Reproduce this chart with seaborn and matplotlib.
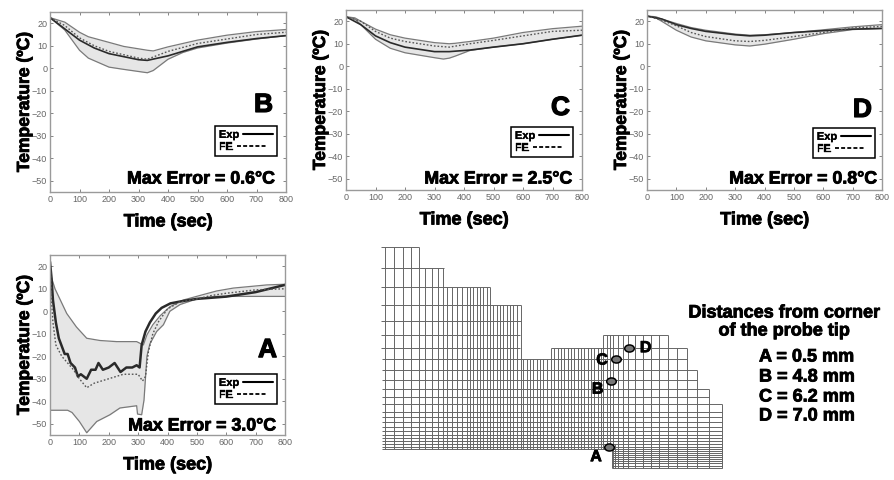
import numpy as np
import pandas as pd
import seaborn as sns
import matplotlib.pyplot as plt
import matplotlib.patheffects as pe
from matplotlib.lines import Line2D
from matplotlib.markers import MarkerStyle
from matplotlib.transforms import Affine2D

W, H = 894, 480

# panel B
b_t_band = [0, 50, 100, 130, 200, 250, 330, 350, 400, 450, 500, 600, 700, 800]
b_upper = [22.5, 20.5, 16, 14, 11.5, 9.7, 8, 7.7, 9.5, 11, 12.5, 14.7, 16.3, 17.2]
b_lower = [22.5, 17, 8, 4.5, 0.5, -0.5, -2, -1, 4, 7, 9, 11.2, 13, 14.5]
b_t = [0, 50, 100, 150, 200, 300, 330, 400, 500, 600, 700, 800]
b_exp = [22.5, 17.5, 12.5, 9, 6.5, 3.8, 3.5, 5.5, 9.5, 11.5, 13.2, 14.5]
b_fe = [22.5, 19, 13.5, 10, 7.5, 4.5, 4, 7.5, 11, 13, 15, 16]

# panel C
c_t_band = [0, 30, 50, 100, 150, 200, 300, 330, 350, 370, 400, 420, 500, 600, 700, 800]
c_upper = [22, 21.5, 20, 16.5, 14, 12.5, 10.5, 10.2, 10, 10.2, 10.7, 11, 12.5, 15, 16.7, 17.8]
c_lower = [22, 21, 18.5, 12, 8, 6, 3.8, 3.2, 3.6, 4.5, 6, 7, 8.5, 10, 12, 13.8]
c_t = [0, 50, 100, 150, 200, 300, 350, 420, 500, 600, 700, 800]
c_exp = [22, 18.5, 13.5, 10.5, 8.5, 6.5, 6.5, 7.2, 8.5, 10, 12, 13.8]
c_fe = [22, 20, 15.5, 12.5, 11, 9, 8.5, 10, 11.5, 13.5, 15.5, 16]

# panel D
d_t_band = [0, 30, 50, 100, 150, 200, 300, 350, 400, 500, 600, 700, 800]
d_upper = [22.3, 22, 21, 19, 17.2, 16, 14.3, 13.8, 14, 15, 16.2, 17.5, 18.5]
d_lower = [22.2, 21.5, 20, 16, 13, 11.3, 9.5, 9, 9.8, 12, 14.5, 16.3, 16.8]
d_t = [0, 50, 100, 150, 200, 300, 350, 400, 500, 600, 700, 800]
d_exp = [22.3, 21, 18.5, 16.8, 15.5, 14, 13.5, 13.8, 15, 15.8, 16.5, 16.8]
d_fe = [22.3, 20.5, 18, 15, 13.2, 11.3, 11, 11.5, 13.2, 15, 17, 17.7]

# panel A
a_t_upper = [0, 5, 17, 57, 90, 125, 170, 227, 295, 318, 330, 350, 375, 408, 454, 510, 567, 624, 738, 800]
a_upper = [22, 15, 10, -1, -7, -12, -13, -13.5, -13.5, -15, -10.5, -6, -2, 2, 5, 7, 9, 10.3, 11.7, 12]
a_t_lower = [0, 1, 60, 75, 100, 125, 159, 204, 238, 295, 298, 312, 320, 330, 340, 363, 386, 408, 443, 500, 567, 800]
a_lower = [22, -44, -44, -45, -49, -54, -49, -46, -43, -42, -45.7, -46, -39.5, -20, -14.5, -9, -6, 0, 3, 5.5, 6.6, 6.6]
a_t_exp = [0, 5, 10, 20, 30, 50, 60, 70, 85, 95, 105, 125, 140, 155, 165, 180, 200, 220, 240, 260, 280, 295, 305,
           312, 325, 340, 360, 380, 410, 450, 500, 600, 700, 800]
a_exp = [22, 15, 5, -5, -12, -19, -19, -23, -25, -29, -28, -30, -26, -26, -23, -26, -25, -23, -27, -25, -25, -24, -25,
         -15, -9, -5, -1, 1.5, 3.5, 4.5, 5.5, 6.5, 8.5, 11.7]
a_t_fe = [0, 5, 10, 20, 40, 60, 80, 100, 125, 150, 200, 250, 300, 315, 325, 335, 350, 370, 400, 440, 500, 550, 600, 700, 800]
a_fe = [22, 5, -5, -15, -20, -23, -26, -30, -34, -32, -30, -28, -28, -31, -29, -18, -10, -4.5, 1, 4, 5.5, 7, 8, 9.5, 10]

# mesh, read in a 1080x720 frame over the lower right part of the picture
mesh_y_full = [358, 390, 420, 447, 470, 492, 515, 530, 547, 560, 573, 585, 595, 603, 612, 620, 628]
mesh_x_end = [950, 982, 982, 1017, 1017, 1055, 1055, 1055, 1055, 1055, 1055, 1055, 1055, 1055, 1055, 1055, 727]
mesh_y_left = [22, 85, 142, 195, 242, 285, 323]
mesh_x_left_end = [147, 222, 360, 452, 452, 450, 450]
mesh_y_right = [285, 323]
mesh_x_right = [(700, 893), (543, 950)]
mesh_y_tip = [628, 634, 640, 646, 652, 658, 664, 670, 677, 684]
mesh_cols = {
    22: [45, 72, 98, 122, 147],
    85: [165, 185, 203, 220],
    142: [232, 247, 262, 277, 290, 300, 310, 320, 330, 340, 350, 360],
    195: [370, 380, 390, 400, 410, 420, 430, 440, 452],
    358: [460, 470, 480, 490, 500, 510, 520, 530],
    323: [543, 553, 563, 573, 583, 593, 603, 613, 623, 633, 643, 653, 663, 673, 683, 693, 920, 950],
    285: [700, 710, 720, 730, 743, 758, 775, 795, 818, 843, 866, 893],
    390: [982],
    447: [1017],
    492: [1055],
}
mesh_tip_x = [727, 735, 743, 758, 775, 795, 818, 843, 866, 893, 920, 950, 982, 1017, 1055]
probe_names = ['A', 'B', 'C', 'D']
probe_x = [717, 723, 739, 777]
probe_y = [620, 422, 358, 324]
probe_label_x = [678, 683, 696, 827]
probe_label_y = [650, 447, 360, 323]

distance_lines = ['A = 0.5 mm', 'B = 4.8 mm', 'C = 6.2 mm', 'D = 7.0 mm']

x_ticks = list(range(0, 801, 100))
y_ticks = list(range(-50, 21, 10))

sns.set_theme(style='white')
plt.rcParams['font.family'] = ['Liberation Sans', 'DejaVu Sans']

BAND = '#e6e6e6'
EDGE = '#7a7a7a'
FRAME = '#9a9a9a'
TICK = '#707070'
thick = [pe.withStroke(linewidth=0.6, foreground='black')]
thin = [pe.withStroke(linewidth=0.25, foreground='black')]


def px_axes(fig, left, top, right, bottom):
    return fig.add_axes([left / W, 1 - bottom / H, (right - left) / W, (bottom - top) / H])


def temp_panel(fig, box, letter, err, t_up, up, t_lo, lo, t_exp, exp, t_fe, fe,
               letter_xy, err_xy, key_xy, exp_lw=1.2):
    ax = px_axes(fig, *box)
    grid = np.array(sorted(set(t_up) | set(t_lo)), dtype=float)
    ax.fill_between(grid, np.interp(grid, t_lo, lo), np.interp(grid, t_up, up), color=BAND, lw=0)
    sns.lineplot(x=t_up, y=up, ax=ax, color=EDGE, lw=0.9, estimator=None, sort=False)
    sns.lineplot(x=t_lo, y=lo, ax=ax, color=EDGE, lw=0.9, estimator=None, sort=False)
    sns.lineplot(x=t_exp, y=exp, ax=ax, color='#2a2a2a', lw=exp_lw, estimator=None, sort=False)
    sns.lineplot(x=t_fe, y=fe, ax=ax, color='#555555', lw=1.0, ls=(0, (1.2, 1.4)), estimator=None, sort=False)
    ax.set_xlim(0, 800)
    ax.set_ylim(-55, 25)
    ax.set_xticks(x_ticks)
    ax.set_yticks(y_ticks)
    ax.tick_params(direction='in', length=2, width=0.6, color=TICK, labelcolor='#666666',
                   labelsize=6.5, top=True, right=True, bottom=True, left=True, pad=2)
    for s in ax.spines.values():
        s.set_color(FRAME)
        s.set_linewidth(1.0)
        s.set_visible(True)
    ax.set_xlabel('Time (sec)', fontsize=13, fontweight='bold', labelpad=7, color='black', path_effects=thick)
    ax.set_ylabel('Temperature (ºC)', fontsize=12.6, fontweight='bold', labelpad=0, color='black', path_effects=thick)
    ax.text(letter_xy[0], letter_xy[1], letter, transform=ax.transAxes, ha='right', va='bottom', fontsize=19,
            fontweight='bold', color='black', path_effects=[pe.withStroke(linewidth=0.9, foreground='black')])
    ax.text(err_xy[0], err_xy[1], f'Max Error = {err}°C', transform=ax.transAxes, ha='right', va='center',
            fontsize=12.8, fontweight='bold', color='black', path_effects=thick)
    handles = [Line2D([], [], color='black', lw=1.5), Line2D([], [], color='black', lw=1.3, ls=(0, (2.2, 1.2)))]
    leg = ax.legend(handles, ['Exp', 'FE'], loc='upper right', bbox_to_anchor=key_xy, markerfirst=False,
                    frameon=True, fancybox=False, edgecolor='black', framealpha=1, borderaxespad=0,
                    prop={'weight': 'bold', 'size': 8}, handlelength=2.7, handletextpad=0.35,
                    labelspacing=0.2, borderpad=0.35)
    leg.get_frame().set_linewidth(1.1)
    leg._legend_handle_box.get_children()[0].align = 'baseline'
    for t in leg.get_texts():
        t.set_color('black')
        t.set_path_effects(thin)
    return ax


fig = plt.figure(figsize=(W / 100, H / 100), dpi=100)

temp_panel(fig, (50, 12, 286, 192), 'B', '0.6', b_t_band, b_upper, b_t_band, b_lower, b_t, b_exp, b_t, b_fe,
           (0.945, 0.417), (0.953, 0.072), (0.962, 0.367))
temp_panel(fig, (346, 10, 582, 190), 'C', '2.5', c_t_band, c_upper, c_t_band, c_lower, c_t, c_exp, c_t, c_fe,
           (0.949, 0.389), (0.958, 0.061), (0.962, 0.35))
temp_panel(fig, (647, 10, 882, 190), 'D', '0.8', d_t_band, d_upper, d_t_band, d_lower, d_t, d_exp, d_t, d_fe,
           (0.957, 0.378), (0.979, 0.061), (0.970, 0.345))
temp_panel(fig, (50, 255, 285, 435), 'A', '3.0', a_t_upper, a_upper, a_t_lower, a_lower, a_t_exp, a_exp, a_t_fe, a_fe,
           (0.966, 0.405), (0.962, 0.05), (0.966, 0.339), exp_lw=1.8)

# finite element mesh
mesh = px_axes(fig, 370, 240, 730, 480)
mesh.set_xlim(0, 1080)
mesh.set_ylim(720, 0)
mesh.axis('off')
mesh.patch.set_alpha(0)
mesh_style = dict(color='#666666', lw=0.7)
mesh.hlines(mesh_y_left, 33, mesh_x_left_end, **mesh_style)
mesh.hlines(mesh_y_right, [p[0] for p in mesh_x_right], [p[1] for p in mesh_x_right], **mesh_style)
mesh.hlines(mesh_y_full, 35, mesh_x_end, **mesh_style)
mesh.hlines(mesh_y_tip, 727, 1055, **mesh_style)
for top, cols in mesh_cols.items():
    mesh.vlines(cols, top, [684 if c >= 727 else 628 for c in cols], **mesh_style)
mesh.vlines(mesh_tip_x, 612, 684, **mesh_style)

probes = pd.DataFrame({'x': probe_x, 'y': probe_y})
oval = MarkerStyle('o', transform=Affine2D().scale(1.35, 1.0))
sns.scatterplot(data=probes, x='x', y='y', ax=mesh, s=26, color='#777777', edgecolor='black', linewidth=1.1,
                marker=oval, zorder=4, legend=False)
mesh.set_xlim(0, 1080)
mesh.set_ylim(720, 0)
for name, lx, ly in zip(probe_names, probe_label_x, probe_label_y):
    mesh.text(lx, ly, name, ha='center', va='center', fontsize=11.5, fontweight='bold', color='black',
              path_effects=thick, zorder=5)

fig.text(784 / W, 1 - 313 / H, 'Distances from corner', ha='center', va='center', fontsize=13,
         fontweight='bold', color='black', path_effects=thick)
fig.text(784 / W, 1 - 331 / H, 'of the probe tip', ha='center', va='center', fontsize=13,
         fontweight='bold', color='black', path_effects=thick)
for line, py in zip(distance_lines, [357, 377, 397, 416]):
    fig.text(759 / W, 1 - py / H, line, ha='left', va='center', fontsize=13, fontweight='bold',
             color='black', path_effects=thick)

fig.savefig('out.png', dpi=100)
